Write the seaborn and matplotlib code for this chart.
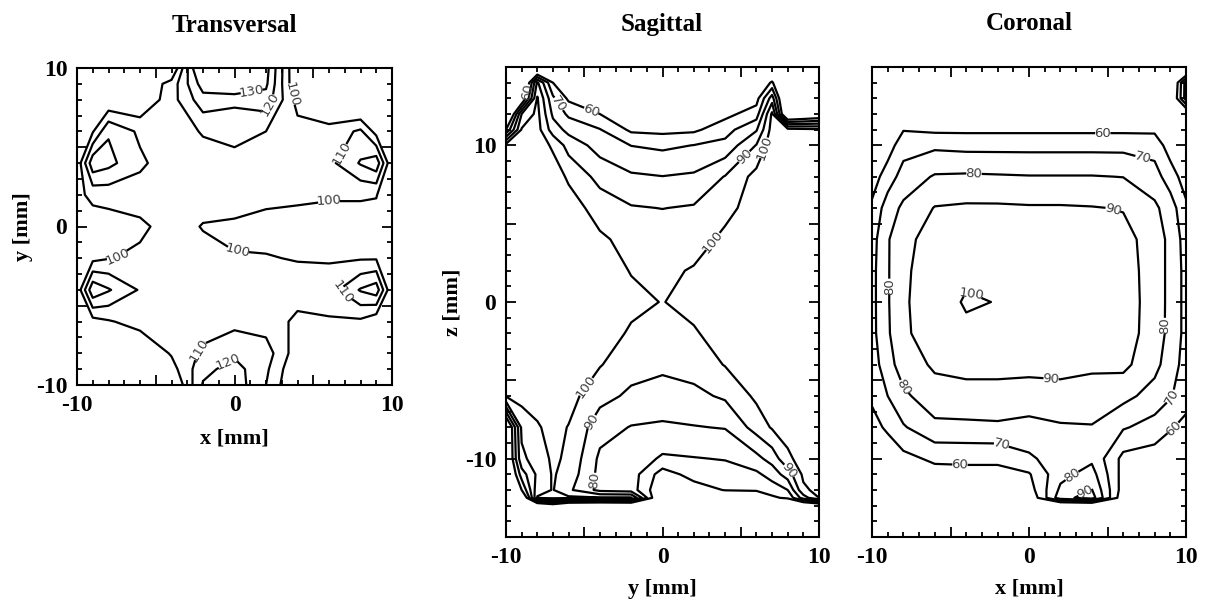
import numpy as np
import matplotlib
matplotlib.use("Agg")
import matplotlib.pyplot as plt
from matplotlib.ticker import MultipleLocator, FuncFormatter
import seaborn as sns

# ---------------------------------------------------------------------------
# Relative dose (%) sampled on coarse grids in the three orthogonal planes
# ---------------------------------------------------------------------------

# Transversal plane: rows run from y = +10 (top) to y = -10 (bottom)
trans_x = [-10, -9, -8, -6, -4, -2, 0, 2, 4, 6, 8, 9, 10]
trans_y = [10, 9, 8, 6, 4, 2, 0, -2, -4, -6, -8, -9, -10]
trans_dose = [
    [90, 90, 90, 90, 88, 150, 152, 134, 88, 90, 90, 90, 90],
    [90, 90, 90, 90, 104, 135, 145, 132, 89, 90, 90, 90, 90],
    [90, 90, 90, 90, 106, 126, 122, 126, 96, 90, 80, 90, 90],
    [90, 99, 119, 108, 104, 111, 114, 110, 104, 103, 112, 96, 90],
    [92, 127, 123, 112, 104, 105, 106, 104, 103, 107, 121, 127, 90],
    [97, 103, 104, 105, 105, 104, 103, 102.5, 102, 101, 101, 100.5, 92],
    [92, 94, 95, 98, 104, 99.5, 99, 97, 96, 96, 96, 96, 90],
    [93, 97, 99.5, 102, 104, 103, 100.3, 100.5, 99.5, 99, 99, 99, 90],
    [92, 128, 121, 109, 104, 105, 104, 104, 104, 105, 121, 126, 90],
    [85, 96, 99, 104, 104, 105, 107, 105, 98, 99, 98, 92, 88],
    [88, 88, 88, 90, 101, 112, 118, 115, 94, 88, 88, 88, 88],
    [88, 88, 88, 88, 96, 117, 124, 112, 90, 88, 88, 88, 88],
    [88, 88, 88, 88, 88, 121, 126, 110, 88, 88, 88, 88, 88],
]
trans_levels = [100, 110, 120, 130]

# Sagittal plane: one dose profile along z (from +15 down to -15) per y position
sag_y = [-10, -9, -8, -7, -6, -4, -2, 0, 2, 4, 6, 7, 8, 9, 10]
sag_z = [15, 14, 13, 12, 11, 10, 8, 6, 4, 2, 0,
         -2, -4, -6, -8, -10, -11, -12, -12.5, -13, -14, -15]
sag_profiles = [
    [30, 30, 30, 30, 60, 104, 105, 105, 105, 105, 105,
     105, 104, 101, 40, 40, 35, 30, 30, 30, 30, 30],
    [30, 30, 45, 90, 101, 104, 105, 105, 105, 105, 105,
     105, 105, 104, 92, 88, 75, 60, 40, 30, 30, 30],
    [30, 92, 101, 103, 104, 105, 105, 105, 105, 105, 105,
     105, 105, 104, 99, 94, 92, 96, 101, 40, 30, 30],
    [30, 60, 72, 78, 85, 98.5, 105, 105, 105, 105, 105,
     105, 105, 105, 103, 102, 101, 100.5, 103, 50, 30, 30],
    [30, 50, 58, 68, 77, 86, 98.5, 104.5, 105, 105, 105,
     105, 104, 103.5, 99.6, 98, 96, 92, 102, 35, 30, 30],
    [30, 42, 52, 60, 70.5, 76, 86.5, 96, 101.5, 103, 104,
     103, 100.6, 93.5, 84, 78, 77, 77, 101, 32, 30, 30],
    [30, 38, 44, 50, 58, 69.8, 81.5, 90.8, 97, 99.7, 101.5,
     99.2, 94, 88, 79.5, 76, 75, 75, 101, 35, 30, 30],
    [25, 32, 40, 48, 57, 68, 80.2, 89.8, 96, 98.5, 99.8,
     98.5, 92, 86, 78.5, 68.5, 55, 50, 40, 32, 30, 30],
    [30, 38, 44, 50, 58, 70.2, 81.5, 91, 97, 100.6, 102,
     99.3, 94, 87.5, 79.5, 69.5, 64, 55, 45, 32, 30, 30],
    [30, 40, 48, 57, 66, 73, 90.5, 98, 101.5, 103, 104,
     103, 100.5, 91.5, 80.5, 70.5, 66, 60.5, 48, 32, 30, 30],
    [35, 45, 56, 65, 79, 90.5, 103.5, 103, 104, 104.5, 105,
     105, 104, 102, 94, 77, 68, 61, 52, 32, 30, 30],
    [35, 62, 85, 102, 104, 106, 106, 106, 106, 106, 106,
     105, 105, 105, 101, 84, 74, 65, 58, 32, 30, 30],
    [30, 30, 30, 35, 104, 106, 106, 106, 106, 106, 106,
     106, 106, 105, 104, 98, 85, 70, 62, 35, 30, 30],
    [30, 30, 30, 40, 103, 106, 106, 106, 106, 106, 106,
     106, 106, 106, 105, 104, 102, 98, 85, 40, 30, 30],
    [30, 30, 30, 45, 102, 106, 106, 106, 106, 106, 106,
     106, 106, 106, 106, 105, 104, 103, 100, 45, 30, 30],
]
sag_levels = [60, 70, 80, 90, 100]

# Coronal plane: one dose profile along z (from +15 down to -15) per x position
cor_x = [-10, -9, -8, -6, -4, -2, 0, 2, 4, 6, 8, 9, 10]
cor_z = sag_z
cor_profiles = [
    [30, 32, 35, 38, 42, 48, 55, 62, 66, 67, 67,
     67, 65, 62, 56, 48, 45, 42, 40, 35, 32, 30],
    [35, 38, 42, 45, 50, 55, 65, 75, 79, 79, 79,
     78.5, 76, 70, 62, 52, 48, 45, 42, 38, 35, 30],
    [40, 45, 48, 52, 59.5, 66, 74, 82, 88, 89, 89.3,
     89, 85, 78, 69, 57, 52, 48, 45, 40, 35, 30],
    [45, 48, 50, 53, 58, 68, 81, 90.5, 93, 93, 93,
     93, 91.5, 86, 77.5, 62, 56, 52, 48, 40, 35, 30],
    [45, 48, 50, 53, 58, 67, 81.5, 91.5, 95, 97, 101.5,
     97, 93.5, 86, 78, 62, 57, 52, 48, 40, 35, 30],
    [45, 48, 50, 53, 58, 67, 81, 91.5, 94.5, 96.5, 99.6,
     96.5, 93.5, 86, 78.5, 62, 57, 52, 48, 40, 35, 30],
    [45, 48, 50, 53, 58, 67, 80.5, 91, 94, 96, 97,
     96.5, 93, 85.5, 77, 68.3, 59, 55, 50, 40, 35, 30],
    [45, 48, 50, 53, 58, 67, 80.5, 91, 94.5, 96.5, 97,
     96, 93.5, 86, 79, 75, 77, 82, 86, 40, 35, 30],
    [45, 48, 50, 53, 58, 67, 80.5, 90.5, 94, 95.5, 96,
     95.5, 92, 85, 79.5, 78, 84, 90.5, 95, 40, 35, 30],
    [45, 48, 50, 53, 58, 67, 79.8, 89.5, 93, 94, 94.5,
     94.5, 92.5, 83, 71, 57, 56, 55, 52, 40, 35, 30],
    [40, 45, 48, 52, 58, 66, 74, 82, 86, 86, 86,
     85.5, 83, 76, 66, 55, 50, 45, 42, 38, 35, 30],
    [35, 38, 42, 45, 50, 55, 65, 75, 77, 77, 77,
     77, 75, 71, 61, 52, 48, 45, 42, 38, 35, 30],
    [30, 85, 85, 45, 42, 48, 55, 62, 66, 67, 67,
     67, 66, 64, 57, 50, 45, 42, 40, 35, 32, 30],
]
cor_levels = [60, 70, 80, 90, 100]

# Where the isodose values are written on the lines
trans_label_at = [(1.1, 8.4), (2.4, 7.6), (3.4, 8.3), (6.0, 1.8), (0.2, -1.6),
                  (-7.5, -1.8), (-0.5, -8.4), (-2.6, -7.6), (7.0, 4.5), (7.0, -4.0)]
sag_label_at = [(-4.6, 12.1), (-6.4, 12.8), (5.0, 9.5), (3.3, 3.8), (-4.9, -5.4),
                (-4.6, -7.6), (-4.2, -11.4), (8.3, -10.6), (6.6, 9.8), (-8.6, 13.4)]
cor_label_at = [(4.7, 10.8), (7.3, 9.4), (-3.5, 8.3), (5.4, 6.1), (1.4, -5.0),
                (-1.7, -8.9), (-4.4, -10.5), (2.6, -10.9), (3.6, -12.2),
                (-8.9, 1.0), (8.7, -1.5), (-8.2, -5.6), (9.3, -6.2), (9.4, -8.3),
                (-3.6, 0.7)]

# ---------------------------------------------------------------------------
sns.set_theme(style="ticks")
plt.rcParams["font.family"] = ["Liberation Serif", "DejaVu Serif"]
plt.rcParams["font.weight"] = "bold"
plt.rcParams["axes.unicode_minus"] = False
plt.rcParams["axes.linewidth"] = 1.5
plt.rcParams["axes.edgecolor"] = "black"
plt.rcParams["text.color"] = "black"
plt.rcParams["axes.labelcolor"] = "black"
plt.rcParams["xtick.color"] = "black"
plt.rcParams["ytick.color"] = "black"

fig = plt.figure(figsize=(12.09, 6.03), dpi=100)
W, H = 1209.0, 603.0


def add_box(left, top, right, bottom):
    return fig.add_axes([left / W, 1 - bottom / H, (right - left) / W, (bottom - top) / H])


def only_main(v, pos):
    return "%d" % round(v) if round(v) in (-10, 0, 10) else ""


def dose_panel(ax, xs, zs, dose, levels, label_at, xlim, ylim):
    xs = np.asarray(xs, float)
    zs = np.asarray(zs, float)
    dose = np.asarray(dose, float)
    # contour wants ascending coordinates
    xo = np.argsort(xs)
    zo = np.argsort(zs)
    xs, zs = xs[xo], zs[zo]
    dose = dose[np.ix_(zo, xo)]
    cs = ax.contour(xs, zs, dose, levels=levels, colors="black",
                    linewidths=1.6)
    texts = ax.clabel(cs, fmt="%d", fontsize=9.5, colors="#3c3c3c",
                      inline=True, inline_spacing=1, manual=label_at)
    for t in texts:
        t.set_fontfamily("DejaVu Sans")
        t.set_fontweight("normal")
    ax.set_xlim(*xlim)
    ax.set_ylim(*ylim)
    for axis in (ax.xaxis, ax.yaxis):
        axis.set_major_locator(MultipleLocator(5))
        axis.set_minor_locator(MultipleLocator(1))
        axis.set_major_formatter(FuncFormatter(only_main))
    ax.tick_params(which="both", direction="in", top=True, right=True,
                   colors="black", labelcolor="black", width=1.3)
    ax.tick_params(which="major", length=7, labelsize=17, pad=7)
    ax.tick_params(which="minor", length=3.5)
    for lab in ax.get_xticklabels() + ax.get_yticklabels():
        lab.set_fontweight("bold")
    for side in ax.spines.values():
        side.set_color("black")
    return cs


label_font = dict(fontsize=16, fontweight="bold", color="black")
title_font = dict(fontsize=18, fontweight="bold", ha="center", va="center",
                  color="black")

# Transversal
ax1 = add_box(77, 68, 392, 385)
dose_panel(ax1, trans_x, trans_y, trans_dose, trans_levels, trans_label_at,
           (-10, 10), (-10, 10))
ax1.set_xlabel("x [mm]", labelpad=9, **label_font)
ax1.set_ylabel("y [mm]", labelpad=2, **label_font)
fig.text(234 / W, 1 - 26 / H, "Transversal", **title_font)

# Sagittal
ax2 = add_box(506, 67, 819, 537)
dose_panel(ax2, sag_y, sag_z, np.array(sag_profiles).T, sag_levels, sag_label_at,
           (-10, 10), (-15, 15))
ax2.set_xlabel("y [mm]", labelpad=8, **label_font)
ax2.set_ylabel("z [mm]", labelpad=2, **label_font)
fig.text(662 / W, 1 - 24 / H, "Sagittal", **title_font)

# Coronal
ax3 = add_box(872, 67, 1186, 537)
dose_panel(ax3, cor_x, cor_z, np.array(cor_profiles).T, cor_levels, cor_label_at,
           (-10, 10), (-15, 15))
ax3.set_xlabel("x [mm]", labelpad=8, **label_font)
ax3.tick_params(axis="y", labelleft=False)
fig.text(1029 / W, 1 - 24 / H, "Coronal", **title_font)

fig.savefig("out.png", dpi=100, facecolor="white")
